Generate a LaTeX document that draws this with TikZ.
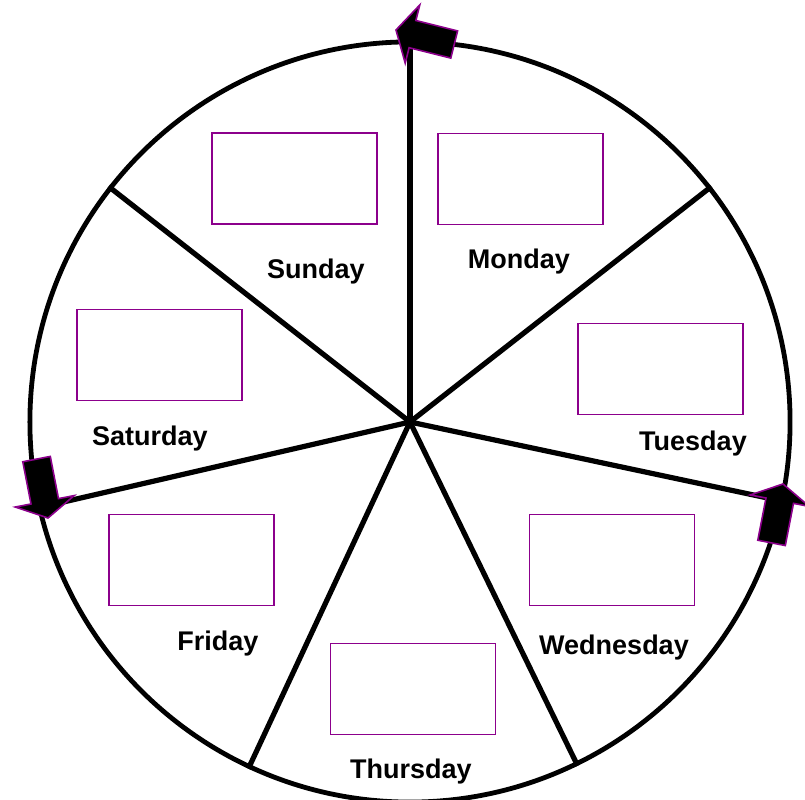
\documentclass[tikz,border=0pt]{standalone}
\usepackage{fontspec}
\setmainfont{Liberation Sans}
\usepackage{tikz}
\usetikzlibrary{arrows.meta,positioning,calc}
\definecolor{BoxPurple}{RGB}{140,0,140}
\tikzset{
    wheel/.style={draw, circle, line width=0.12cm, minimum size=19cm, inner sep=0pt},
    spoke/.style={line width=0.13cm},
    daybox/.style={draw=BoxPurple, line width=0.035cm, minimum width=4.125cm, minimum height=2.275cm, inner sep=0pt},
    daylabel/.style={font=\fontsize{19.2}{22}\selectfont\bfseries, inner sep=0pt},
    turnarr/.style={fill=black, draw=BoxPurple, line width=0.04cm, line join=miter},
    turnarrow/.pic={
        \path[turnarr] (0,0) -- (-17,30) -- (-17,14) -- (-60,14) -- (-60,-14) -- (-17,-14) -- (-17,-30) -- cycle;
    },
}

\begin{document}
\begin{tikzpicture}[x=0.025cm, y=0.025cm]
\useasboundingbox (-410,-378) rectangle (395,422);
\node[wheel] (wheel) at (0,0) {};
\foreach \i in {0,...,6}
    \draw[spoke] (wheel.center) -- (wheel.{90-\i*360/7});

% day boxes
\node[daybox] (sunbox) at (-115.5,243.5) {};
\node[daybox] (monbox) at (110.5,243) {};
\node[daybox] (tuebox) at (250.5,53) {};
\node[daybox] (wedbox) at (202,-138) {};
\node[daybox] (thubox) at (3,-267) {};
\node[daybox] (fribox) at (-218.5,-138) {};
\node[daybox] (satbox) at (-250.5,67) {};

% day names
\node[daylabel] (sun) at (-94,150) {Sunday};
\node[daylabel] (mon) at (109,160) {Monday};
\node[daylabel] (tue) at (283,-22) {Tuesday};
\node[daylabel] (wed) at (204,-226) {Wednesday};
\node[daylabel] (thu) at (1,-350) {Thursday};
\node[daylabel] (fri) at (-192,-222) {Friday};
\node[daylabel] (sat) at (-260,-17) {Saturday};

% turning arrows
\pic[rotate=166] at (-14,392) {turnarrow};
\pic[rotate=-79] at (-362,-96) {turnarrow};
\pic[rotate=79] at (373,-62) {turnarrow};
\end{tikzpicture}
\end{document}
